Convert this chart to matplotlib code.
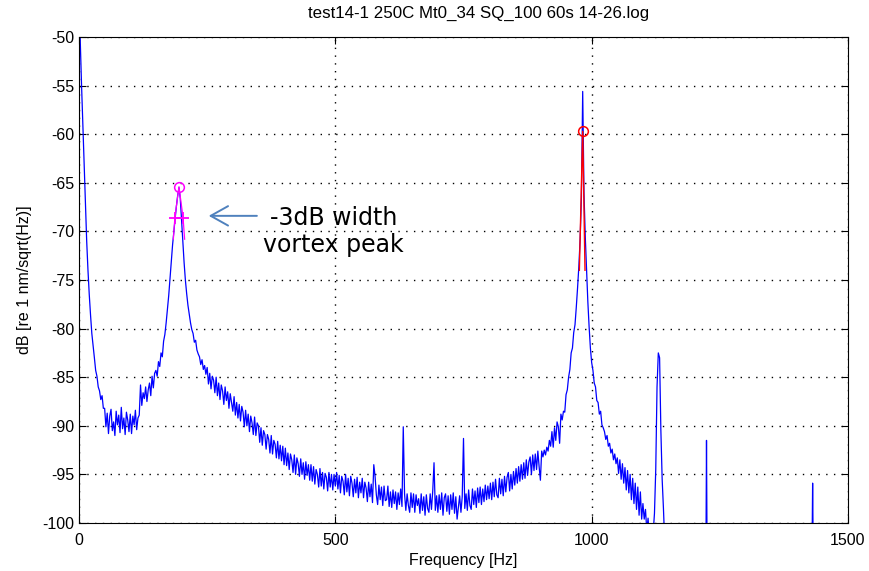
import numpy as np
import matplotlib
matplotlib.use("Agg")
import matplotlib.pyplot as plt

# spectrum, one value per 2.5 Hz (20 values per row = 50 Hz)
freq_hz = np.arange(0, 1150, 2.5)
level_db = [
    -46.0, -50.5, -55.0, -59.0, -63.0, -67.2, -71.0, -74.0, -76.5, -78.6,
    -80.5, -81.7, -83.0, -84.3, -84.9, -86.0, -86.4, -87.3, -86.9, -88.2,
    -88.2, -90.1, -88.7, -90.8, -89.0, -88.3, -90.5, -89.6, -91.0, -88.5,
    -89.9, -88.9, -90.7, -88.1, -90.3, -89.2, -90.9, -88.6, -89.4, -90.6,
    -88.8, -90.8, -89.0, -89.9, -88.4, -90.4, -89.2, -88.9, -85.8, -87.9,
    -86.6, -87.2, -86.0, -87.5, -86.3, -85.6, -86.9, -84.9, -86.1, -84.6,
    -84.3, -84.9, -83.4, -83.9, -82.5, -82.9, -81.3, -80.6, -79.4, -78.0,
    -76.6, -74.9, -73.2, -71.4, -70.0, -68.7, -67.4, -66.3, -65.5, -66.6,
    -68.8, -71.0, -73.2, -75.0, -76.4, -77.6, -78.5, -79.4, -80.1, -80.5,
    -81.4, -81.2, -82.2, -82.6, -82.9, -83.7, -83.2, -84.2, -83.8, -84.7,
    -84.0, -85.7, -84.6, -86.2, -84.9, -85.3, -86.6, -85.0, -86.9, -85.6,
    -87.3, -85.8, -86.4, -87.8, -86.0, -87.4, -86.5, -88.2, -86.7, -87.6,
    -88.5, -87.0, -88.9, -87.6, -89.2, -87.8, -89.5, -88.0, -88.6, -90.1,
    -88.4, -90.0, -88.8, -90.6, -89.0, -89.7, -90.9, -89.1, -91.0, -89.7,
    -90.0, -91.7, -90.2, -92.0, -90.5, -90.9, -92.4, -90.9, -91.4, -92.8,
    -91.0, -92.9, -91.5, -91.9, -93.3, -91.6, -93.4, -92.0, -93.6, -92.1,
    -94.0, -92.3, -94.1, -92.8, -94.5, -92.9, -93.5, -94.8, -93.0, -95.0,
    -93.3, -93.9, -95.2, -93.4, -95.0, -93.8, -95.5, -93.7, -95.1, -94.0,
    -95.6, -94.0, -95.7, -94.2, -96.0, -94.5, -95.0, -96.3, -94.4, -96.2,
    -94.8, -96.5, -94.9, -95.3, -96.7, -94.8, -96.3, -95.0, -96.6, -95.0,
    -96.2, -94.8, -96.5, -95.1, -96.9, -95.2, -95.7, -97.1, -95.0, -96.8,
    -95.4, -97.2, -95.2, -95.9, -97.3, -95.5, -96.9, -95.3, -97.4, -95.8,
    -96.9, -95.4, -97.4, -95.8, -96.4, -97.8, -95.8, -97.3, -96.0, -97.9,
    -94.0, -95.2, -97.1, -98.1, -96.1, -97.6, -96.3, -98.2, -96.2, -97.7,
    -97.6, -96.2, -98.3, -96.8, -98.4, -96.6, -98.0, -96.8, -98.6, -96.9,
    -98.1, -96.5, -98.3, -90.1, -97.0, -98.7, -97.0, -98.2, -98.9, -96.9,
    -98.4, -97.0, -98.9, -97.1, -98.2, -97.5, -99.0, -97.0, -98.7, -97.3,
    -99.2, -97.1, -98.5, -98.9, -97.0, -98.6, -96.7, -93.8, -98.7, -97.2,
    -98.9, -97.1, -98.6, -96.9, -99.2, -97.4, -97.0, -98.8, -97.2, -99.1,
    -97.1, -98.6, -96.9, -99.0, -97.3, -99.6, -98.4, -97.2, -98.9, -97.3,
    -91.3, -98.5, -97.0, -98.7, -96.6, -98.2, -98.6, -96.5, -98.1, -96.7,
    -98.4, -96.4, -97.9, -96.3, -98.1, -96.5, -97.8, -96.1, -97.6, -96.2,
    -97.5, -95.9, -97.6, -95.8, -97.3, -95.5, -97.1, -97.4, -95.4, -97.0,
    -95.5, -97.2, -95.2, -96.8, -95.3, -94.8, -96.7, -95.0, -96.5, -94.7,
    -96.1, -94.4, -95.9, -94.2, -95.7, -94.0, -95.5, -93.8, -95.4, -93.5,
    -95.1, -93.7, -93.2, -95.0, -93.0, -94.6, -92.9, -94.5, -92.6, -94.2,
    -95.6, -92.6, -93.2, -92.5, -93.0, -92.2, -92.6, -91.5, -92.1, -90.6,
    -92.2, -90.2, -91.5, -89.6, -90.1, -91.8, -88.8, -89.4, -88.5, -88.6,
    -86.8, -86.3, -85.0, -84.2, -82.5, -82.0, -80.4, -79.6, -77.8, -75.8,
    -73.6, -70.8, -66.5, -55.6, -66.0, -70.5, -74.0, -77.2, -79.8, -82.0,
    -83.5, -84.3, -85.6, -86.0, -87.4, -87.6, -88.8, -88.5, -89.9, -90.2,
    -90.6, -91.4, -91.0, -92.1, -91.8, -92.8, -92.4, -93.5, -92.9, -93.9,
    -93.3, -94.9, -93.5, -95.5, -93.9, -95.9, -94.3, -96.6, -94.6, -96.9,
    -95.0, -97.6, -95.4, -98.0, -95.9, -98.6, -96.3, -99.2, -96.8, -99.6,
    -98.0, -99.6, -98.6, -100.8, -99.5, -101.5, -102.0, -102.0, -101.0, -99.0,
    -94.5, -86.0, -82.5, -83.0, -90.5, -95.5, -98.5, -102.0, -102.0, -102.0,
]

# the two narrow lines above 1150 Hz (floor is off scale)
tail_f = [1150, 1223, 1224, 1225, 1430, 1431, 1432, 1500]
tail_db = [-102.0, -102.0, -91.5, -102.0, -102.0, -95.9, -102.0, -102.0]

# vortex peak and its -3 dB points
vortex_f = [187, 195, 203]
vortex_db = [-68.6, -65.4, -68.6]
vortex_edge_f = [184, 187, 195, 203, 206]
vortex_edge_db = [-70.8, -68.6, -65.4, -68.6, -70.8]

# main resonance fit
res_peak_f = 982.5
res_peak_db = -59.7
res_fit_f = [976, 982.5, 987]
res_fit_db = [-74.0, -59.7, -74.0]

title = "test14-1 250C Mt0_34 SQ_100 60s 14-26.log"
xticks = [0, 500, 1000, 1500]
yticks = [-100, -95, -90, -85, -80, -75, -70, -65, -60, -55, -50]

plt.rcParams['font.family'] = ['Liberation Sans', 'DejaVu Sans']
plt.rcParams['axes.unicode_minus'] = False

fig = plt.figure(figsize=(8.69, 5.71), dpi=100)
ax = fig.add_axes([79 / 869, 1 - 523 / 571, (848 - 79) / 869, (523 - 37) / 571])

ax.plot(np.concatenate([freq_hz, tail_f]), np.concatenate([level_db, tail_db]),
        color='#0000ff', lw=0.9)

# red fit around the main peak
ax.plot(res_fit_f, res_fit_db, color='#ff0000', lw=1.0)
ax.plot(res_peak_f, res_peak_db, 'o', ms=7, mfc='none', mec='#ff0000', mew=1.1)

# magenta markers on the vortex peak
ax.plot(vortex_edge_f, vortex_edge_db, color='#ff00ff', lw=0.9)
ax.plot(vortex_f[1], vortex_db[1], 'o', ms=7, mfc='none', mec='#ff00ff', mew=1.1)
ax.plot([vortex_f[0], vortex_f[2]], [vortex_db[0], vortex_db[2]], color='#ff00ff', lw=1.1)
ax.plot([vortex_f[0], vortex_f[2]], [vortex_db[0], vortex_db[2]], '+', ms=8, mec='#ff00ff', mew=1.3)

ax.set_xlim(0, 1500)
ax.set_ylim(-100, -50)
ax.set_xticks(xticks)
ax.set_yticks(yticks)
ax.grid(True, color='black', linestyle=(0, (1, 4.6)), lw=1.0)
ax.tick_params(direction='in', top=True, right=True, length=5, labelsize=11.5)
ax.tick_params(axis='x', pad=7)
for s in ax.spines.values():
    s.set_linewidth(0.8)

ax.set_title(title, fontsize=12.2, pad=14, x=0.519)
ax.set_xlabel("Frequency [Hz]", fontsize=11.5, labelpad=4)
ax.set_ylabel("dB [re 1 nm/sqrt(Hz)]", fontsize=11.5, labelpad=7)

# annotation, arrow pointing at the -3 dB markers
ax.annotate("", xy=(253, -68.4), xytext=(347, -68.4),
            arrowprops=dict(arrowstyle='->,head_length=1.25,head_width=0.7',
                            color='#4f81bd', lw=1.4, shrinkA=0, shrinkB=0))
ax.text(496, -70.0, "-3dB width\nvortex peak", fontsize=17, family='DejaVu Sans',
        ha='center', va='center', linespacing=1.15)

fig.savefig("out.png", dpi=100)
